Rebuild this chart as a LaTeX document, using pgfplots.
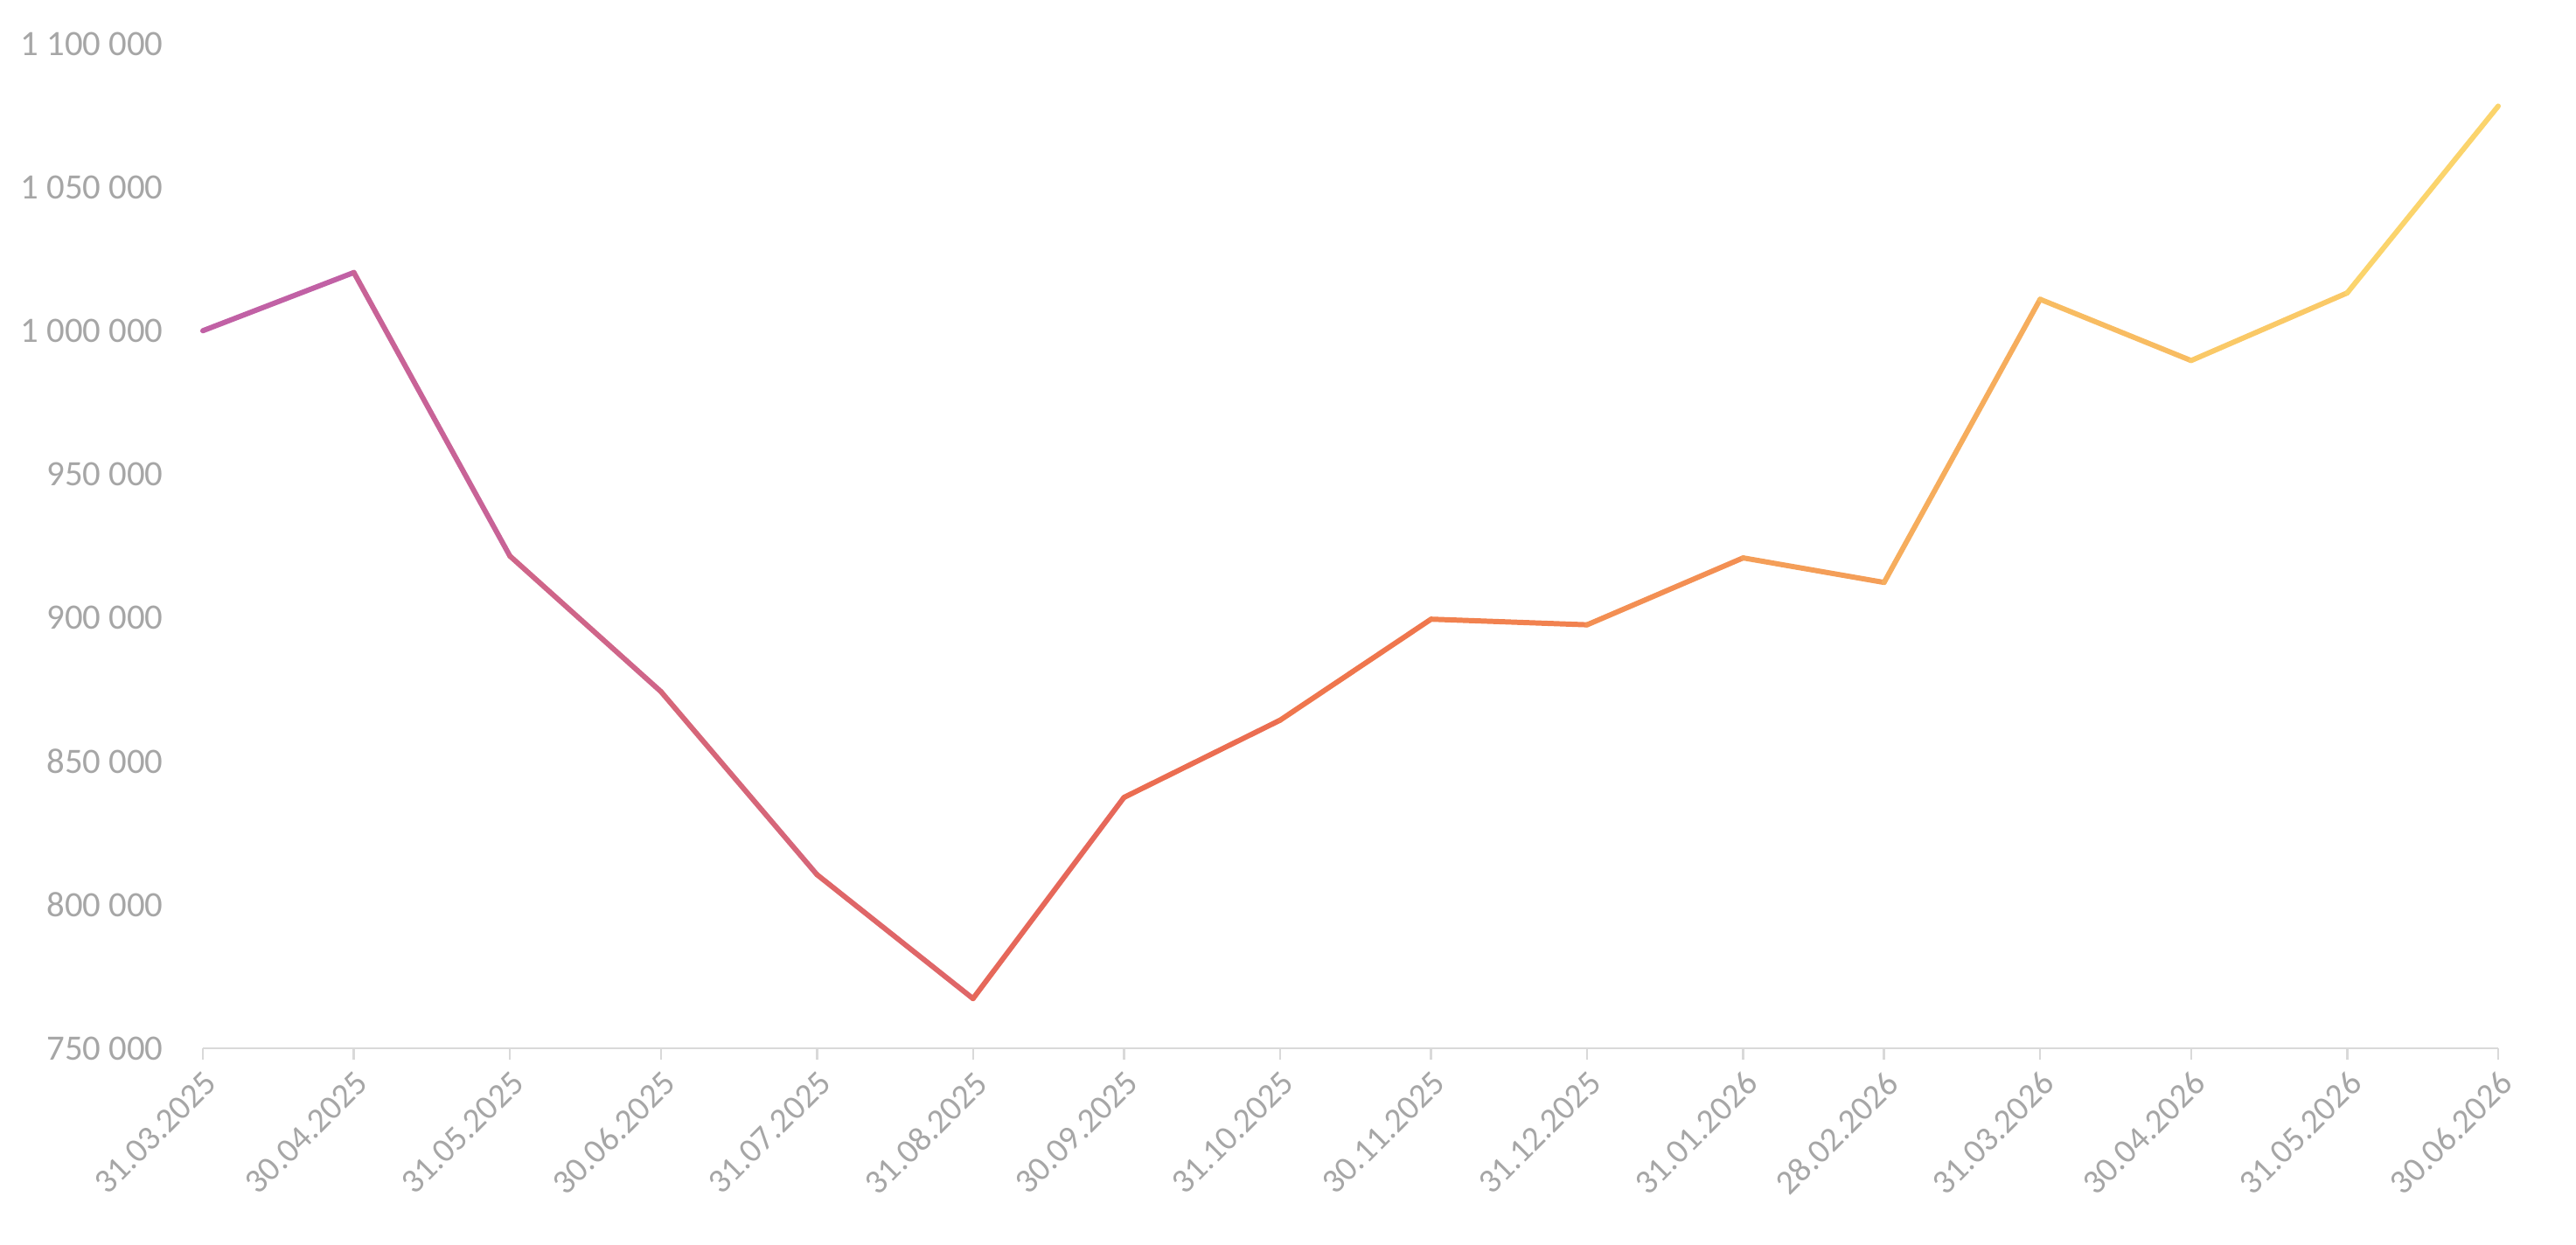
\documentclass[border=0pt]{standalone}
\usepackage{fontspec}
\setmainfont{Carlito}
\usepackage{pgfplots}
\pgfplotsset{compat=1.18}
\definecolor{txt}{RGB}{166,166,166}
\definecolor{axl}{RGB}{217,217,217}
\begin{document}
\begin{tikzpicture}
\path[use as bounding box] (0,0) rectangle (29.46cm,14.24cm);
\begin{axis}[
  at={(2.32cm,2.25cm)}, anchor=south west,
  scale only axis, width=26.25cm, height=11.49cm,
  xmin=0, xmax=456, ymin=750000, ymax=1100000,
  axis x line*=bottom, axis y line*=left,
  x axis line style={axl, line width=0.7pt},
  y axis line style={draw=none},
  xtick style={axl, line width=0.7pt},
  ytick style={draw=none},
  tick align=outside, major tick length=0.13cm,
  yticklabel style={font=\fontsize{11.6}{14}\selectfont, text=txt, xshift=-0.2cm},
  xticklabel style={font=\fontsize{11.2}{14}\selectfont, text=txt, rotate=45, anchor=north east, inner sep=2pt},
  xtick={0,30,61,91,122,153,183,214,244,275,306,334,365,395,426,456},
  xticklabels={31.03.2025,30.04.2025,31.05.2025,30.06.2025,31.07.2025,31.08.2025,30.09.2025,31.10.2025,30.11.2025,31.12.2025,31.01.2026,28.02.2026,31.03.2026,30.04.2026,31.05.2026,30.06.2026},
  ytick={750000,800000,850000,900000,950000,1000000,1050000,1100000},
  yticklabels={750 000,800 000,850 000,900 000,950 000,1 000 000,1 050 000,1 100 000},
  scaled y ticks=false,
  clip=false,
  colormap={grad}{rgb255(0)=(190,96,172); rgb255(91)=(210,102,130); rgb255(153)=(227,102,95); rgb255(214)=(238,112,76); rgb255(275)=(242,135,80); rgb255(334)=(245,165,90); rgb255(395)=(249,195,100); rgb255(456)=(252,218,110)},
  point meta min=0, point meta max=456,
]
\addplot[mesh, point meta=x, line width=1.7pt, line cap=round, line join=round] table {
x y
0 1000000
30 1020280
61 921500
91 874270
122 810500
153 767300
183 837400
214 864300
244 899500
275 897540
306 920850
334 912300
365 1010950
395 989605
426 1013167
456 1078246
};
\end{axis}
\end{tikzpicture}
\end{document}
